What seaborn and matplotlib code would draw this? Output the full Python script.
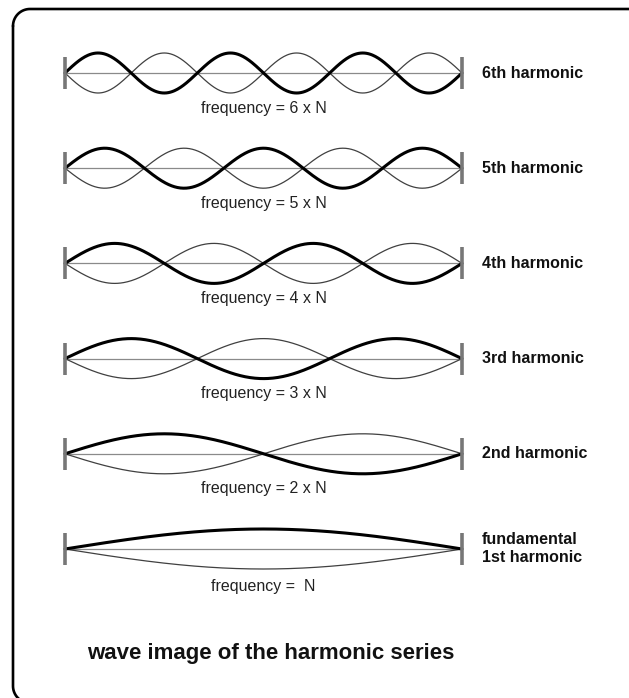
import numpy as np
import pandas as pd
import matplotlib.pyplot as plt
import seaborn as sns

# -------------------------------
# Data
# -------------------------------
harmonics = [6, 5, 4, 3, 2, 1]
names = ["6th harmonic", "5th harmonic", "4th harmonic", "3rd harmonic",
         "2nd harmonic", "fundamental\n1st harmonic"]
freq_labels = ["frequency = 6 x N", "frequency = 5 x N", "frequency = 4 x N",
               "frequency = 3 x N", "frequency = 2 x N", "frequency =  N"]
title = "wave image of the harmonic series"

sns.set_theme(style="white")
plt.rcParams['font.family'] = ['Liberation Sans', 'DejaVu Sans']

# -------------------------------
# Layout (pixel coordinates)
# -------------------------------
x0, x1 = 65, 462
amp = 20
top = 73
step = 95.2

t = np.linspace(0, 1, 400)
frames = []
for i, n in enumerate(harmonics):
    yc = top + i * step
    wave = amp * np.sin(n * np.pi * t)
    x = x0 + (x1 - x0) * t
    frames.append(pd.DataFrame({'x': x, 'y': yc - wave, 'row': i, 'kind': 'thick'}))
    frames.append(pd.DataFrame({'x': x, 'y': yc + wave, 'row': i, 'kind': 'thin'}))
df = pd.concat(frames, ignore_index=True)

fig = plt.figure(figsize=(6.29, 6.98), dpi=100)
ax = fig.add_axes([0, 0, 1, 1])

# rounded border, running off the right and bottom edges
bl, bt, br, bb, rad = 13, 9, 653, 703, 17
def corner(cx, cy, a0, a1):
    a = np.linspace(a0, a1, 20)
    return cx + rad * np.cos(a), cy + rad * np.sin(a)
parts = [corner(bl + rad, bt + rad, np.pi, 1.5 * np.pi),
         corner(br - rad, bt + rad, 1.5 * np.pi, 2 * np.pi),
         corner(br - rad, bb - rad, 0, 0.5 * np.pi),
         corner(bl + rad, bb - rad, 0.5 * np.pi, np.pi)]
bx = np.concatenate([p[0] for p in parts] + [parts[0][0][:1]])
by = np.concatenate([p[1] for p in parts] + [parts[0][1][:1]])
ax.plot(bx, by, color='black', lw=1.9, solid_joinstyle='round')

for i in range(len(harmonics)):
    yc = top + i * step
    ax.hlines(yc, x0, x1, color='#8a8a8a', lw=0.9, zorder=1)
    ax.vlines([x0, x1], yc - 16, yc + 16, color='#777777', lw=2.6, zorder=3)

sns.lineplot(data=df[df['kind'] == 'thin'], x='x', y='y', units='row',
             estimator=None, sort=False, color='#404040', lw=0.9, ax=ax, zorder=2)
sns.lineplot(data=df[df['kind'] == 'thick'], x='x', y='y', units='row',
             estimator=None, sort=False, color='black', lw=2.2, ax=ax, zorder=2)
ax.set_xlim(0, 629)
ax.set_ylim(698, 0)
ax.axis('off')

for i, (name, fl) in enumerate(zip(names, freq_labels)):
    yc = top + i * step
    ax.text(482, yc, name, fontsize=11.5, fontweight='bold', ha='left',
            va='center', color='#111111', linespacing=1.25)
    off = 37 if i == len(harmonics) - 1 else 35
    ax.text((x0 + x1) / 2, yc + off, fl, fontsize=11.5, ha='center',
            va='center', color='#222222')

ax.text(271, 653, title, fontsize=16, fontweight='bold', ha='center',
        va='center', color='#111111')

fig.savefig("out.png", dpi=100)
